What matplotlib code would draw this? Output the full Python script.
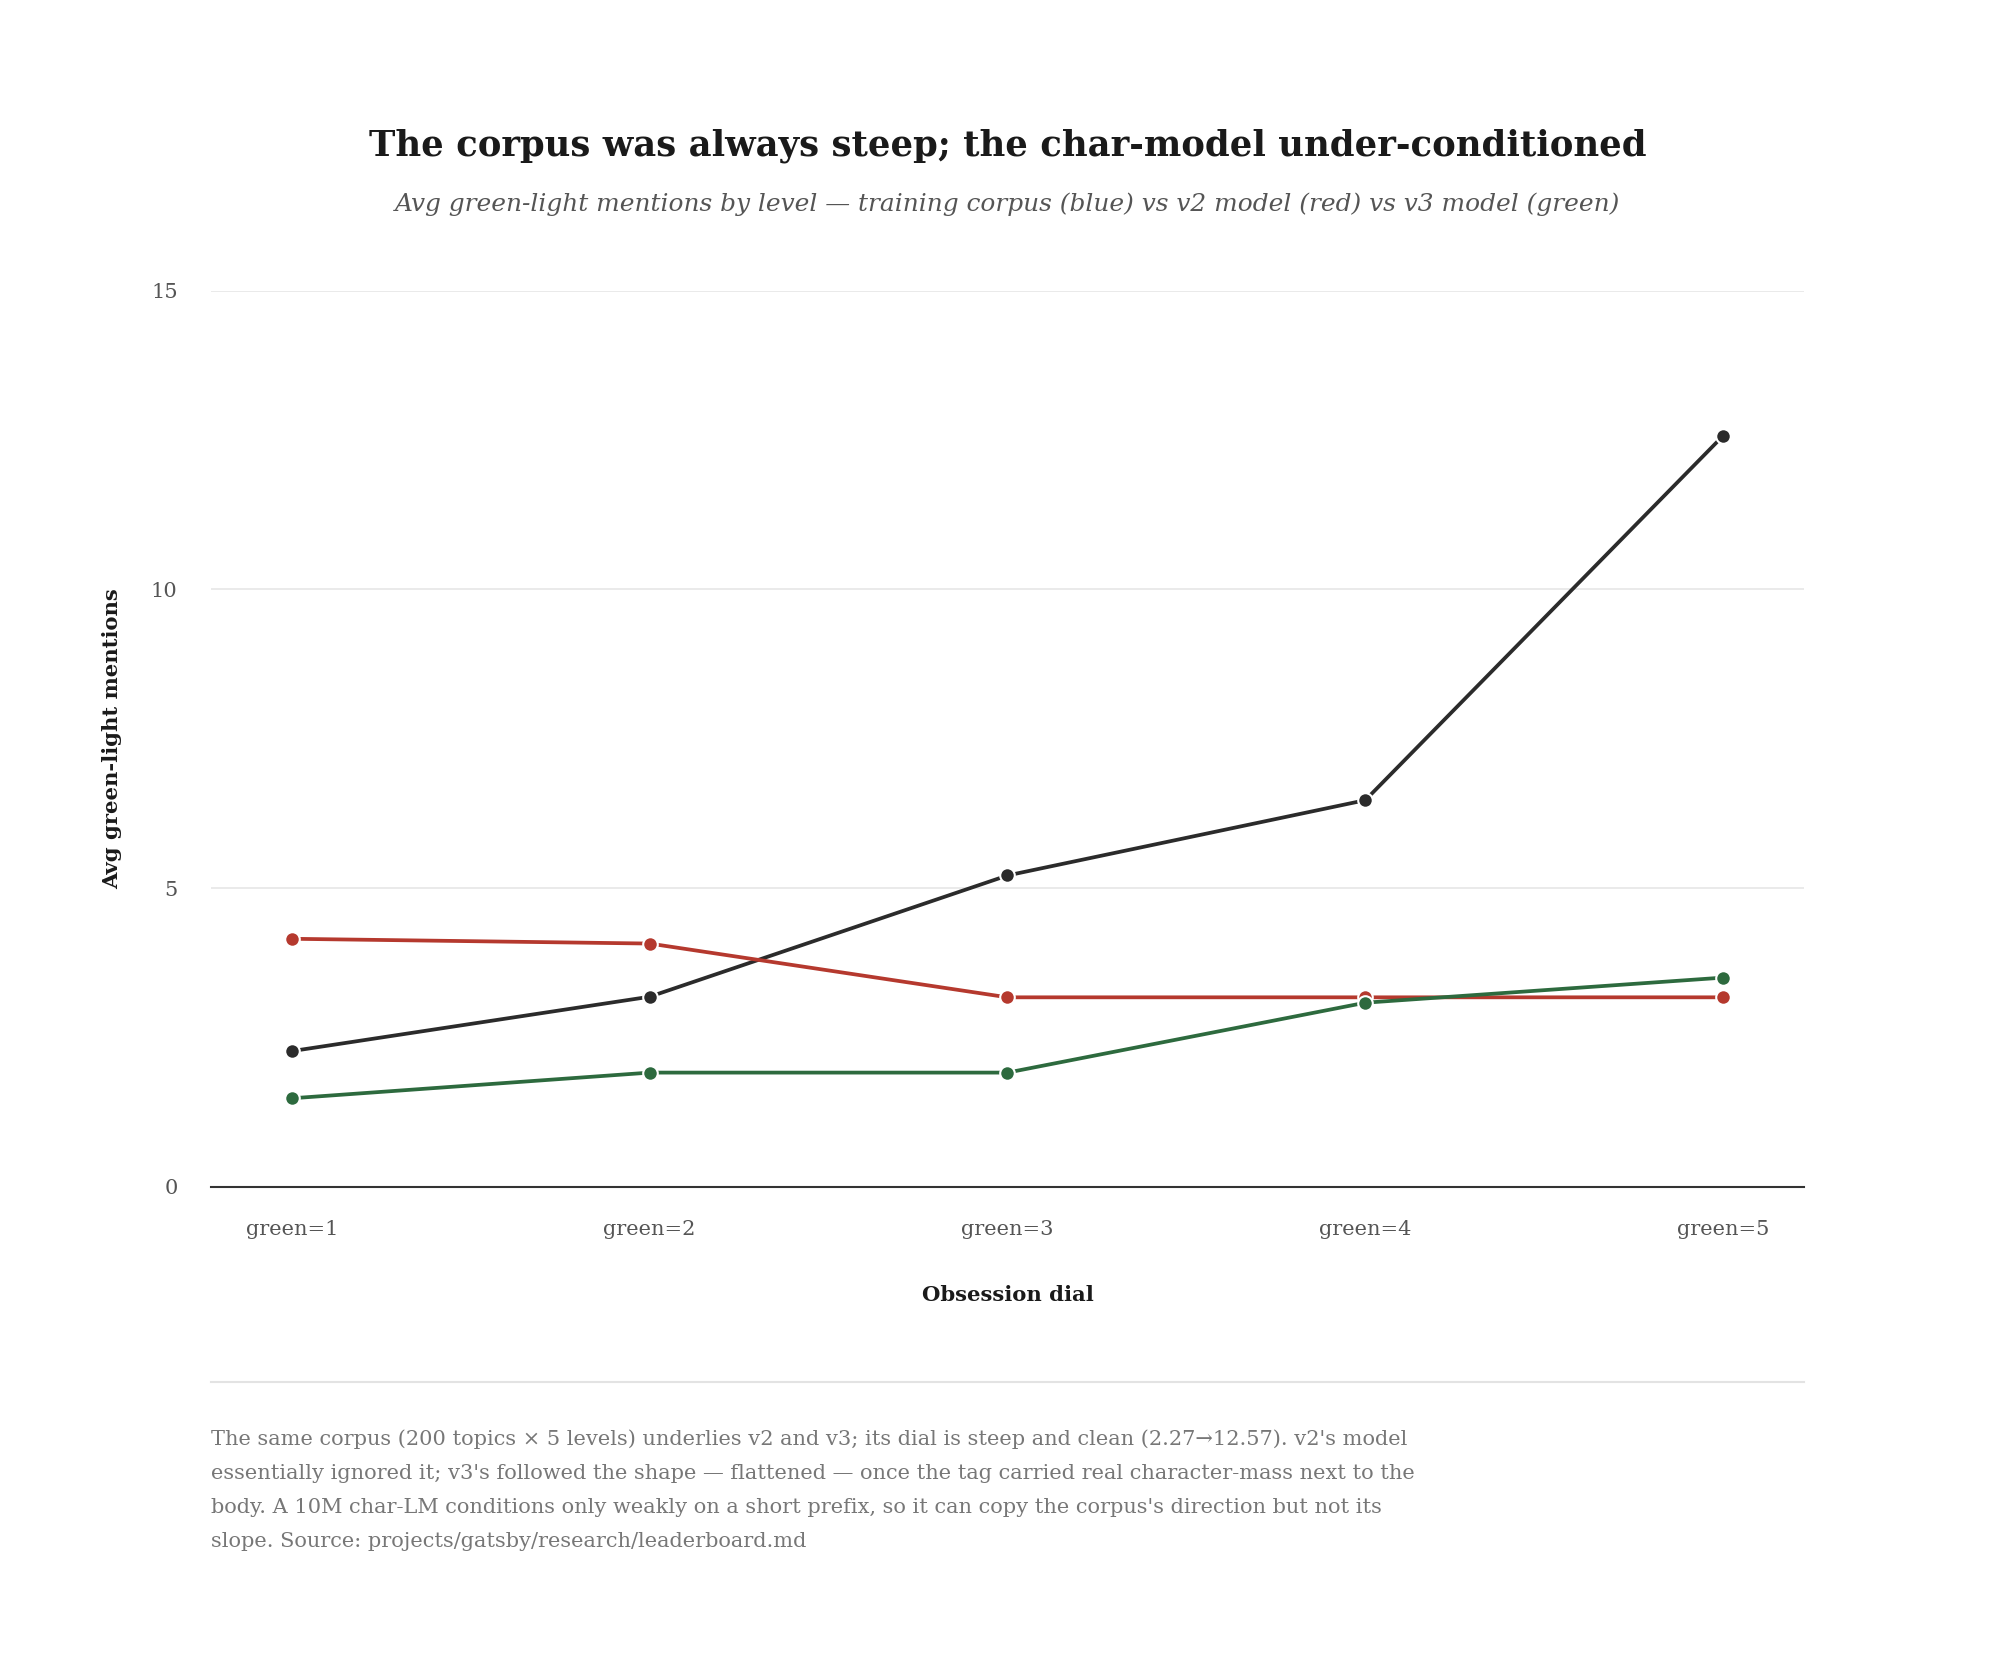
import matplotlib
matplotlib.use("Agg")
import matplotlib.pyplot as plt
from matplotlib.lines import Line2D

categories = ["green=1", "green=2", "green=3", "green=4", "green=5"]
corpus = [2.27, 3.18, 5.21, 6.47, 12.57]
v2_model = [4.15, 4.07, 3.17, 3.17, 3.17]
v3_model = [1.48, 1.91, 1.91, 3.08, 3.50]
yticks = [0, 5, 10, 15]

title = "The corpus was always steep; the char-model under-conditioned"
subtitle = "Avg green-light mentions by level \u2014 training corpus (blue) vs v2 model (red) vs v3 model (green)"
caption = ("The same corpus (200 topics \u00d7 5 levels) underlies v2 and v3; its dial is steep and clean (2.27\u219212.57). v2's model\n"
           "essentially ignored it; v3's followed the shape \u2014 flattened \u2014 once the tag carried real character-mass next to the\n"
           "body. A 10M char-LM conditions only weakly on a short prefix, so it can copy the corpus's direction but not its\n"
           "slope. Source: projects/gatsby/research/leaderboard.md")

SERIF = ["DejaVu Serif"]
W, H = 2016, 1676
fig = plt.figure(figsize=(W / 100, H / 100), dpi=100)
fig.patch.set_facecolor("white")

ax = fig.add_axes([211 / W, 1 - 1186.7 / H, (1804 - 211) / W, (1186.7 - 290.6) / H])
x = list(range(len(categories)))

series = [(corpus, "#2b2b2b"), (v2_model, "#b5392e"), (v3_model, "#2d6a3e")]
for vals, col in series:
    ax.plot(x, vals, color=col, lw=2.7, marker="o", markersize=10.5,
            markerfacecolor=col, markeredgecolor="white", markeredgewidth=1.5,
            solid_capstyle="round", zorder=3)

ax.set_xlim(-0.226, 4.226)
ax.set_ylim(0, 15)
ax.set_yticks(yticks)
ax.set_yticklabels([str(t) for t in yticks])
ax.set_xticks(x)
ax.set_xticklabels(categories)
ax.tick_params(axis="both", length=0, labelsize=15, labelcolor="#555555")
ax.tick_params(axis="y", pad=24)
ax.tick_params(axis="x", pad=24)
for lab in ax.get_xticklabels() + ax.get_yticklabels():
    lab.set_family(SERIF)
ax.grid(axis="y", color="#e6e6e6", lw=1.2, zorder=0)
ax.grid(axis="x", visible=False)
for s in ["top", "right", "left"]:
    ax.spines[s].set_visible(False)
ax.spines["bottom"].set_color("#333333")
ax.spines["bottom"].set_linewidth(1.5)
ax.set_facecolor("white")

fig.text(1008 / W, 1 - 146 / H, title, ha="center", va="center", fontsize=25.5,
         fontweight="bold", family=SERIF, color="#1a1a1a")
fig.text(1008 / W, 1 - 204 / H, subtitle, ha="center", va="center", fontsize=17.9,
         style="italic", family=SERIF, color="#555555")
fig.text(112 / W, 1 - 739 / H, "Avg green-light mentions", ha="center", va="center",
         rotation=90, fontsize=15.2, fontweight="bold", family=SERIF, color="#1a1a1a")
fig.text(1008 / W, 1 - 1295 / H, "Obsession dial", ha="center", va="center",
         fontsize=15.2, fontweight="bold", family=SERIF, color="#1a1a1a")

fig.add_artist(Line2D([211 / W, 1804 / W], [1 - 1382 / H, 1 - 1382 / H],
                      transform=fig.transFigure, color="#e3e3e3", lw=1.5))
fig.text(211 / W, 1 - 1429 / H, caption, ha="left", va="top", fontsize=15,
         family=SERIF, color="#777777", linespacing=2.0)

fig.savefig("out.png", dpi=100, facecolor="white")
